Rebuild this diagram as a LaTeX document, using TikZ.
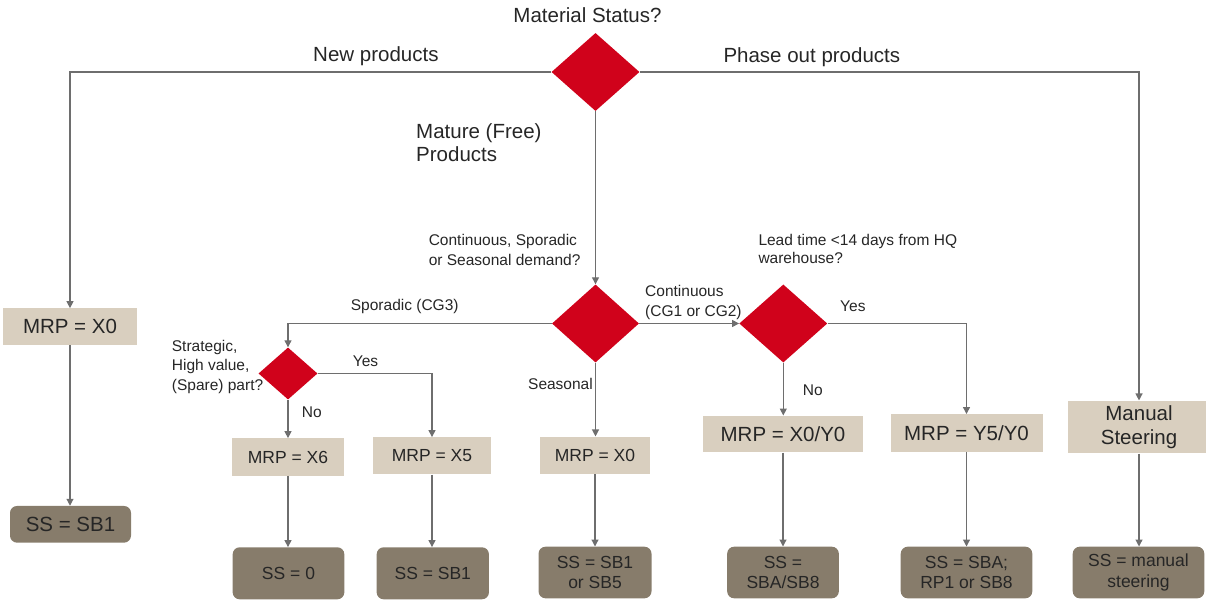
\documentclass[tikz,border=0pt]{standalone}
\usepackage{fontspec}
\setmainfont{Liberation Sans}
\usetikzlibrary{shapes.geometric,arrows.meta}

\definecolor{decred}{RGB}{208,2,27}
\definecolor{mrpfill}{RGB}{217,207,191}
\definecolor{ssfill}{RGB}{135,124,107}
\definecolor{wire}{RGB}{110,110,110}
\definecolor{ink}{RGB}{38,38,38}

\newcommand\fsz[2]{\fontsize{#1}{#2}\selectfont}

\tikzset{
  decision/.style={diamond, fill=decred, draw=none, inner sep=0pt, text=ink},
  mrpbox/.style={rectangle, fill=mrpfill, inner sep=0pt, text=ink, align=center,
                 font=\fsz{17.5pt}{20.5pt}},
  ssbox/.style={rectangle, fill=ssfill, rounded corners=7pt, inner sep=0pt, text=ink,
                align=center, font=\fsz{17.5pt}{20.5pt}},
  bigtext/.style={font=\fsz{20.5pt}{24pt}},
  wirearrow/.style={draw=wire, line width=1.2pt, -{Triangle[length=7pt,width=7pt]}},
  lbl/.style={text=ink, inner sep=0pt, align=left, font=\fsz{15.5pt}{19.5pt}},
  biglbl/.style={text=ink, inner sep=0pt, align=left, font=\fsz{20.5pt}{23.5pt}},
}

\begin{document}
\begin{tikzpicture}[x=1pt,y=-1pt]
\useasboundingbox (0,0) rectangle (1206,601);

% decisions
\node[decision, minimum width=88pt, minimum height=78pt] (status) at (595.5,72) {};
\node[decision, minimum width=87pt, minimum height=78pt] (demand) at (595.5,323.5) {};
\node[decision, minimum width=59pt, minimum height=52pt] (strategic) at (288,373.5) {};
\node[decision, minimum width=88pt, minimum height=78pt] (lead) at (783.3,323.5) {};

% MRP settings
\node[mrpbox, bigtext, minimum width=133.3pt, minimum height=36.7pt] (mrpnew) at (70,326.7) {MRP = X0};
\node[mrpbox, minimum width=111.7pt, minimum height=37.3pt] (mrpxsix) at (288,457) {MRP = X6};
\node[mrpbox, minimum width=117.3pt, minimum height=37pt] (mrpxfive) at (432,455.8) {MRP = X5};
\node[mrpbox, minimum width=110pt, minimum height=37.3pt] (mrpseas) at (595,455.3) {MRP = X0};
\node[mrpbox, bigtext, minimum width=160.6pt, minimum height=36.6pt] (mrpxy) at (783,434) {MRP = X0/Y0};
\node[mrpbox, bigtext, minimum width=152pt, minimum height=37.5pt] (mrpyfive) at (966.5,433) {MRP = Y5/Y0};
\node[mrpbox, bigtext, minimum width=142pt, minimum height=52.7pt] (manual) at (1139,427) {Manual\\Steering};

% safety stock settings
\node[ssbox, bigtext, minimum width=121pt, minimum height=36.7pt] (ssnew) at (70.5,524.3) {SS = SB1};
\node[ssbox, minimum width=111.7pt, minimum height=52pt] (sszero) at (288.5,573.3) {SS = 0};
\node[ssbox, minimum width=112.3pt, minimum height=52pt] (sssbone) at (432.8,573.3) {SS = SB1};
\node[ssbox, minimum width=113pt, minimum height=51.6pt] (ssseas) at (595,572.5) {SS = SB1\\or SB5};
\node[ssbox, minimum width=111.7pt, minimum height=51.6pt] (ssxy) at (783,572.5) {SS =\\SBA/SB8};
\node[ssbox, minimum width=131.6pt, minimum height=51.6pt] (ssyfive) at (966.5,572.5) {SS = SBA;\\RP1 or SB8};
\node[ssbox, minimum width=131.6pt, minimum height=51.6pt] (ssman) at (1138.5,572.5) {SS = manual\\steering};

% labels (multi-line ones are placed by the baseline of their last line)
\node[biglbl, anchor=base] at (587.5,23) {Material Status?};
\node[biglbl, anchor=base west] at (313,61.7) {New products};
\node[biglbl, anchor=base west] at (723.3,63) {Phase out products};
\node[biglbl, anchor=base west] at (416,161.7) {Mature (Free)\\Products};
\node[lbl, anchor=base west] at (428.6,265.5) {Continuous, Sporadic\\[0.5pt]or Seasonal demand?};
\node[lbl, anchor=base west] at (758.3,263.3) {Lead time <14 days from HQ\\[-2pt]warehouse?};
\node[lbl, anchor=base west] at (645,316.7) {Continuous\\[0.5pt](CG1 or CG2)};
\node[lbl, anchor=base west] at (350.7,310) {Sporadic (CG3)};
\node[lbl, anchor=base west] at (840,311) {Yes};
\node[lbl, anchor=base west] at (171.7,390) {Strategic,\\High value,\\(Spare) part?};
\node[lbl, anchor=base west] at (352.7,366) {Yes};
\node[lbl, anchor=base west] at (301.7,417.3) {No};
\node[lbl, anchor=base east] at (593,389) {Seasonal};
\node[lbl, anchor=base west] at (802.7,395) {No};

% connectors from the status question
\draw[wirearrow] (status.west) -| (mrpnew.north);
\draw[wirearrow] (status.east) -| (manual.north);
\draw[wirearrow] (status.south) -- (demand.north);

% connectors from the demand question
\draw[wirearrow] (demand.west) -| (strategic.north);
\draw[wirearrow] (demand.east) -- (lead.west);
\draw[wirearrow] (demand.south) -- (demand.south |- mrpseas.north);

% connectors from the part question
\draw[wirearrow] (strategic.east) -| (mrpxfive.north);
\draw[wirearrow] (strategic.south) -- (strategic.south |- mrpxsix.north);

% connectors from the lead time question
\draw[wirearrow] (lead.east) -| (mrpyfive.north);
\draw[wirearrow] (lead.south) -- (lead.south |- mrpxy.north);

% MRP to safety stock
\draw[wirearrow] (mrpnew.south) -- (mrpnew.south |- ssnew.north);
\draw[wirearrow] (mrpxsix.south) -- (mrpxsix.south |- sszero.north);
\draw[wirearrow] (mrpxfive.south) -- (mrpxfive.south |- sssbone.north);
\draw[wirearrow] (mrpseas.south) -- (mrpseas.south |- ssseas.north);
\draw[wirearrow] (mrpxy.south) -- (mrpxy.south |- ssxy.north);
\draw[wirearrow] (mrpyfive.south) -- (mrpyfive.south |- ssyfive.north);
\draw[wirearrow] (manual.south) -- (manual.south |- ssman.north);
\end{tikzpicture}
\end{document}
